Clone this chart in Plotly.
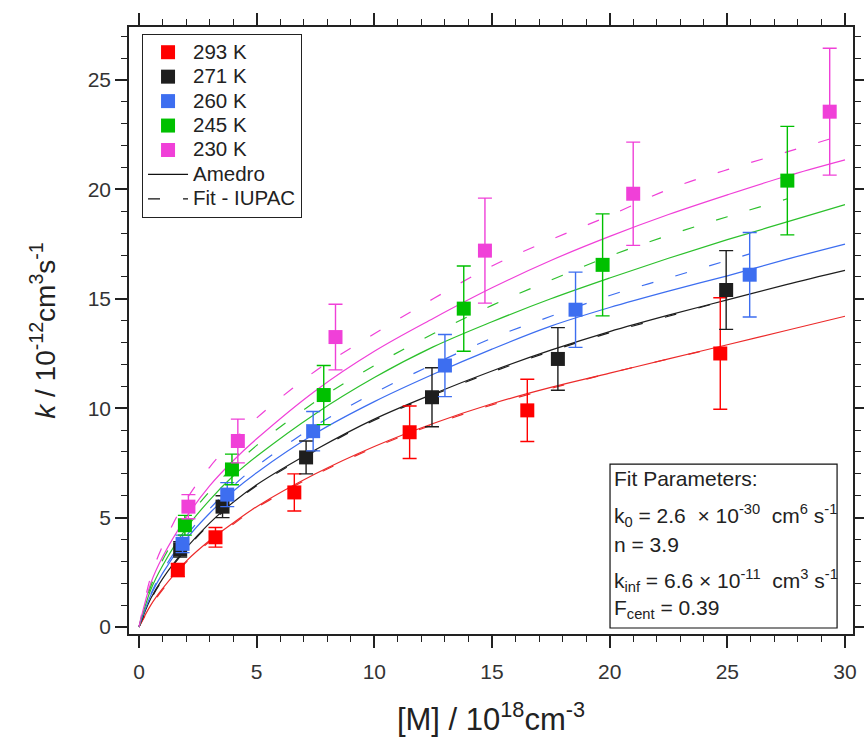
import plotly.graph_objects as go

# ---------------- data ----------------
SERIES_NAMES = ["293 K", "271 K", "260 K", "245 K", "230 K"]
LINE_NAMES = ["Amedro", "Fit - IUPAC"]
COLORS = ["#ff0000", "#1e1e1e", "#3d6ef0", "#00c000", "#f040d8"]
LINE_COLORS = ["#ec2a2a", "#1e1e1e", "#3d6ef0", "#2cc02c", "#f040d8"]

X_293 = [1.65, 3.25, 6.6, 11.5, 16.5, 24.7]
Y_293 = [2.6, 4.1, 6.15, 8.9, 9.9, 12.5]
E_293 = [0.3, 0.45, 0.85, 1.2, 1.42, 2.55]

X_271 = [1.75, 3.55, 7.1, 12.45, 17.8, 24.95]
Y_271 = [3.55, 5.5, 7.75, 10.5, 12.25, 15.4]
E_271 = [0.35, 0.5, 0.75, 1.35, 1.43, 1.8]

X_260 = [1.85, 3.75, 7.4, 13.0, 18.55, 25.95]
Y_260 = [3.8, 6.05, 8.95, 11.95, 14.5, 16.1]
E_260 = [0.4, 0.55, 0.9, 1.42, 1.72, 1.93]

X_245 = [1.95, 3.95, 7.85, 13.8, 19.7, 27.55]
Y_245 = [4.65, 7.2, 10.6, 14.55, 16.55, 20.4]
E_245 = [0.45, 0.7, 1.35, 1.95, 2.33, 2.48]

X_230 = [2.1, 4.2, 8.35, 14.7, 21.0, 29.35]
Y_230 = [5.5, 8.5, 13.25, 17.2, 19.8, 23.55]
E_230 = [0.55, 1.0, 1.5, 2.4, 2.36, 2.9]

# Amedro curves (solid)
X_CURVE = [0, 0.5, 1, 2, 3, 4, 5, 7.5, 10, 12.5, 15, 17.5, 20, 22.5, 25, 27.5, 30]
AM_293 = [0, 1.0, 1.75, 3.0, 3.95, 4.75, 5.5, 7.0, 8.25, 9.3, 10.2, 10.95, 11.6, 12.25, 12.9, 13.55, 14.2]
AM_271 = [0, 1.3, 2.2, 3.6, 4.75, 5.7, 6.5, 8.1, 9.5, 10.65, 11.7, 12.65, 13.5, 14.25, 14.95, 15.65, 16.3]
AM_260 = [0, 1.45, 2.45, 4.0, 5.2, 6.2, 7.05, 8.85, 10.3, 11.55, 12.7, 13.75, 14.6, 15.35, 16.05, 16.8, 17.5]
AM_245 = [0, 1.7, 2.8, 4.5, 5.8, 6.9, 7.8, 9.75, 11.4, 12.8, 13.95, 15.0, 15.95, 16.85, 17.7, 18.5, 19.3]
AM_230 = [0, 2.0, 3.2, 5.0, 6.45, 7.6, 8.6, 10.8, 12.6, 14.1, 15.5, 16.75, 17.85, 18.85, 19.75, 20.6, 21.35]

# IUPAC fit curves (dashed), drawn over each data range
XF_293 = [0, 0.5, 1, 2, 3, 4, 5, 7.5, 10, 12.5, 15, 17.5, 20, 22.5, 24.7]
FIT_293 = [0, 0.95, 1.7, 2.95, 3.9, 4.7, 5.45, 6.95, 8.2, 9.25, 10.15, 10.9, 11.6, 12.25, 12.8]
XF_271 = [0, 0.5, 1, 2, 3, 4, 5, 7.5, 10, 12.5, 15, 17.5, 20, 22.5, 24.95]
FIT_271 = [0, 1.25, 2.15, 3.55, 4.7, 5.65, 6.45, 8.05, 9.45, 10.6, 11.65, 12.6, 13.45, 14.2, 14.93]
XF_260 = [0, 0.5, 1, 2, 3, 4, 5, 7.5, 10, 12.5, 15, 17.5, 20, 22.5, 25, 25.95]
FIT_260 = [0, 1.5, 2.55, 4.15, 5.4, 6.45, 7.35, 9.2, 10.7, 12.0, 13.2, 14.2, 15.15, 15.95, 16.75, 17.05]
XF_245 = [0, 0.5, 1, 2, 3, 4, 5, 7.5, 10, 12.5, 15, 17.5, 20, 22.5, 25, 27.55]
FIT_245 = [0, 1.85, 3.05, 4.85, 6.2, 7.3, 8.3, 10.3, 11.95, 13.4, 14.7, 15.85, 16.95, 17.9, 18.75, 19.57]
XF_230 = [0, 0.5, 1, 2, 3, 4, 5, 7.5, 10, 12.5, 15, 17.5, 20, 22.5, 25, 27.5, 29.35]
FIT_230 = [0, 2.3, 3.7, 5.8, 7.3, 8.5, 9.55, 11.7, 13.4, 15.0, 16.5, 17.7, 18.8, 20.0, 20.9, 21.7, 22.3]

FIT_LINES = [
    "Fit Parameters:",
    "k<sub>0</sub> = 2.6 &nbsp;× 10<sup>-30</sup> &nbsp;cm<sup>6</sup> s<sup>-1</sup>",
    "n = 3.9",
    "k<sub>inf</sub> = 6.6 × 10<sup>-11</sup> &nbsp;cm<sup>3</sup> s<sup>-1</sup>",
    "F<sub>cent</sub> = 0.39",
]

DATA = [(X_293, Y_293, E_293), (X_271, Y_271, E_271), (X_260, Y_260, E_260),
        (X_245, Y_245, E_245), (X_230, Y_230, E_230)]
AMEDRO = [AM_293, AM_271, AM_260, AM_245, AM_230]
FITS = [(XF_293, FIT_293), (XF_271, FIT_271), (XF_260, FIT_260),
        (XF_245, FIT_245), (XF_230, FIT_230)]

FONT = "Liberation Sans, Arial, sans-serif"
AXC = "#222222"


def legend_label(s):
    return '<span style="font-size:20.5px">' + s + '</span>'


fig = go.Figure()

for i, ys in enumerate(AMEDRO):
    fig.add_trace(go.Scatter(
        x=X_CURVE, y=ys, mode="lines", line=dict(color=LINE_COLORS[i], width=1.2, shape="spline"),
        name=LINE_NAMES[0], showlegend=False, hoverinfo="skip"))
for i, (xs, ys) in enumerate(FITS):
    fig.add_trace(go.Scatter(
        x=xs, y=ys, mode="lines",
        line=dict(color=LINE_COLORS[i], width=1.2, shape="spline", dash="12px,23px"),
        name=LINE_NAMES[1], showlegend=False, hoverinfo="skip"))

for i, (xs, ys, es) in enumerate(DATA):
    fig.add_trace(go.Scatter(
        x=xs, y=ys, mode="markers", name=legend_label(SERIES_NAMES[i]), legendrank=i + 1,
        marker=dict(symbol="square", size=14, color=COLORS[i], line=dict(width=0)),
        error_y=dict(type="data", array=es, visible=True, color=COLORS[i], thickness=1.4, width=7)))

fig.add_trace(go.Scatter(x=[None], y=[None], mode="lines", name=legend_label(LINE_NAMES[0]),
                         legendrank=6, line=dict(color="#111111", width=1.2)))
fig.add_trace(go.Scatter(x=[None], y=[None], mode="lines", name=legend_label(LINE_NAMES[1]),
                         legendrank=7, line=dict(color="#111111", width=1.2, dash="12px,23px")))

axis_common = dict(
    showline=True, linecolor=AXC, linewidth=1.5, mirror="allticks",
    ticks="outside", ticklen=12, tickwidth=1.5, tickcolor=AXC,
    showgrid=False, zeroline=False, automargin=False,
    tickfont=dict(family=FONT, size=21, color="#333333"),
    minor=dict(ticks="outside", ticklen=6, tickwidth=1, tickcolor=AXC, dtick=1, showgrid=False),
)

fig.update_layout(
    width=864, height=738,
    margin=dict(l=129, r=11, t=27, b=104),
    paper_bgcolor="white", plot_bgcolor="white",
    font=dict(family=FONT, color="#222222"),
    showlegend=True,
    legend=dict(x=0.018, y=0.9885, xanchor="left", yanchor="top",
                bordercolor="#222222", borderwidth=1, bgcolor="white",
                font=dict(family=FONT, size=16.5, color="#222222"),
                itemwidth=40, tracegroupgap=0, traceorder="normal"),
    xaxis=dict(range=[-0.425, 30.34], tick0=0, dtick=5, ticklabelstandoff=6,
               title=dict(text="[M] / 10<sup>18</sup>cm<sup>-3</sup>",
                          font=dict(family=FONT, size=31, color="#222222"), standoff=26),
               **axis_common),
    yaxis=dict(range=[-0.32, 27.42], tick0=0, dtick=5,
               title=dict(text="<i>k</i> / 10<sup>-12</sup>cm<sup>3</sup>s<sup>-1</sup>",
                          font=dict(family=FONT, size=28, color="#222222"), standoff=24),
               **axis_common),
)

# Fit parameter box
fig.add_shape(type="rect", xref="paper", yref="paper", x0=0.6644, x1=0.978, y0=0.0099, y1=0.28,
              line=dict(color="#111111", width=1.2), fillcolor="white", layer="above")
FIT_Y = [0.2570, 0.1950, 0.1478, 0.0880, 0.0407]
for txt, yy in zip(FIT_LINES, FIT_Y):
    fig.add_annotation(xref="paper", yref="paper", x=0.667, y=yy, xanchor="left", yanchor="middle",
                       align="left", showarrow=False, text=txt,
                       font=dict(family=FONT, size=21, color="#222222"))

fig.write_html("out.html")
